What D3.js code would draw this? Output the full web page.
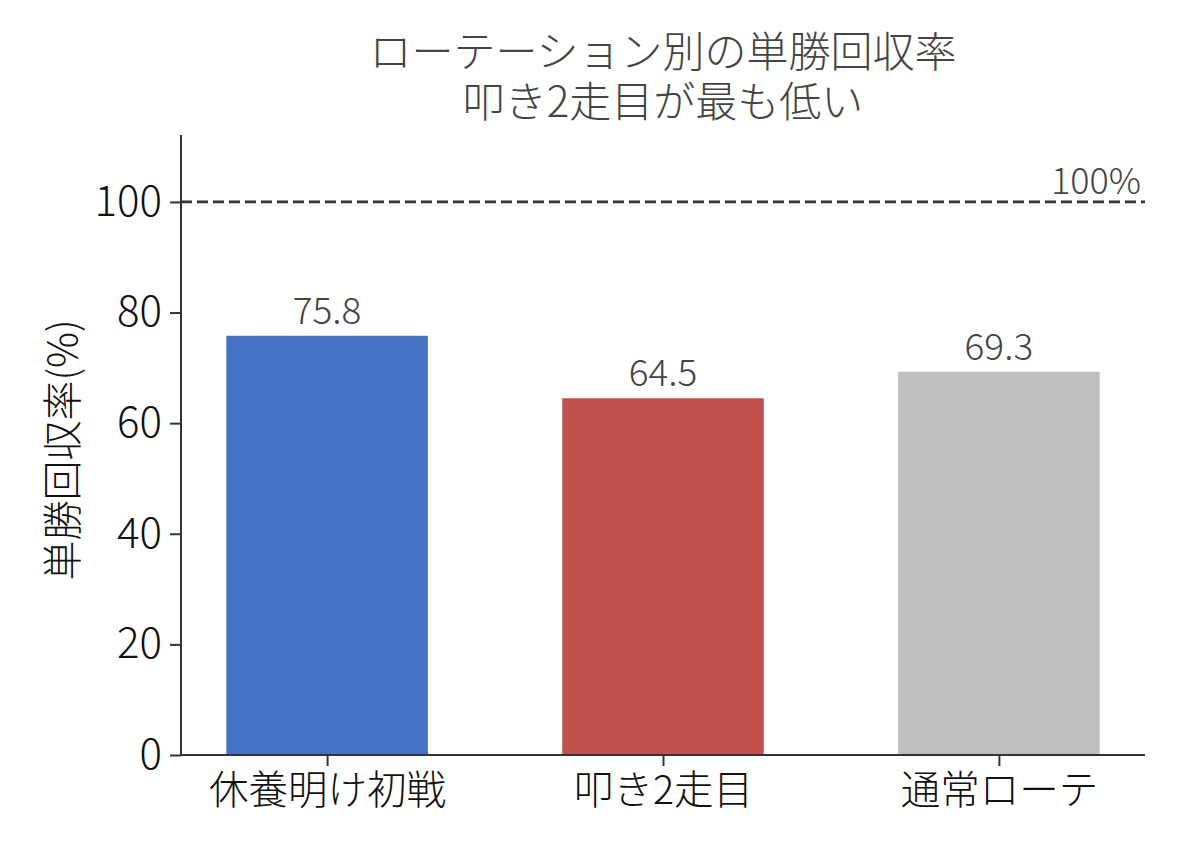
<!DOCTYPE html>
<html><head><meta charset="utf-8">
<script src="https://cdn.jsdelivr.net/npm/d3@7"></script>
<style>
body{margin:0;background:#fff;}
text{font-family:"Noto Sans CJK JP","Noto Sans",sans-serif;}
</style></head>
<body><svg id="c" width="1188" height="858"></svg>
<script>
const categories = ["休養明け初戦", "叩き2走目", "通常ローテ"];
const values = [75.8, 64.5, 69.3];
const colors = ["#4472C4", "#C0504D", "#BFBFBF"];
const yTicks = [0, 20, 40, 60, 80, 100];
const titleLines = ["ローテーション別の単勝回収率", "叩き2走目が最も低い"];
const yLabel = "単勝回収率(%)";
const refValue = 100;
const refLabel = "100%";

const svg = d3.select("#c");
const L = 181, R = 1145, T = 135, B = 755;
const x = d3.scaleLinear().domain([-0.435, categories.length - 1 + 0.435]).range([L, R]);
const y = d3.scaleLinear().domain([0, 112.1]).range([B, T]);
const barW = x(0.6) - x(0);

svg.append("g").selectAll("rect").data(values).join("rect")
  .attr("x", (d, i) => x(i) - barW / 2)
  .attr("y", d => y(d))
  .attr("width", barW)
  .attr("height", d => y(0) - y(d))
  .attr("fill", (d, i) => colors[i]);

svg.append("line").attr("x1", L).attr("x2", R).attr("y1", y(refValue)).attr("y2", y(refValue))
  .attr("stroke", "#333").attr("stroke-width", 2.6).attr("stroke-dasharray", "11,5");

svg.append("text").attr("x", R - 4).attr("y", y(refValue) - 8).attr("text-anchor", "end")
  .attr("font-size", 36).attr("font-weight", 300).attr("fill", "#444").text(refLabel);

svg.append("g").selectAll("text").data(values).join("text")
  .attr("x", (d, i) => x(i)).attr("y", d => y(d) - 12)
  .attr("text-anchor", "middle").attr("font-size", 37).attr("font-weight", 300)
  .attr("fill", "#444").text(d => d.toFixed(1));

const yAxis = svg.append("g").attr("transform", `translate(${L},0)`)
  .call(d3.axisLeft(y).tickValues(yTicks).tickSize(11).tickPadding(8));
yAxis.select(".domain").attr("d", `M0,${B}V${T}`);
const xAxis = svg.append("g").attr("transform", `translate(0,${B})`)
  .call(d3.axisBottom(x).tickValues(d3.range(categories.length)).tickFormat(i => categories[i]).tickSize(11).tickPadding(10));
xAxis.select(".domain").attr("d", `M${L},0H${R}`);
[yAxis, xAxis].forEach(g => {
  g.selectAll(".domain").attr("stroke", "#333").attr("stroke-width", 2);
  g.selectAll(".tick line").attr("stroke", "#333").attr("stroke-width", 2);
  g.selectAll(".tick text").attr("font-weight", 300).attr("fill", "#111")
    .style("font-family", '"Noto Sans CJK JP","Noto Sans",sans-serif');
});
yAxis.selectAll(".tick text").attr("font-size", 42);
xAxis.selectAll(".tick text").attr("font-size", 39.5);

svg.append("text").attr("transform", `translate(77,450) rotate(-90)`)
  .attr("text-anchor", "middle").attr("font-size", 40).attr("font-weight", 300).attr("fill", "#111").text(yLabel);

svg.append("g").selectAll("text").data(titleLines).join("text")
  .attr("x", (L + R) / 2).attr("y", (d, i) => 67 + i * 50)
  .attr("text-anchor", "middle").attr("font-size", 42).attr("font-weight", 300)
  .attr("fill", "#444").text(d => d);
</script></body></html>
